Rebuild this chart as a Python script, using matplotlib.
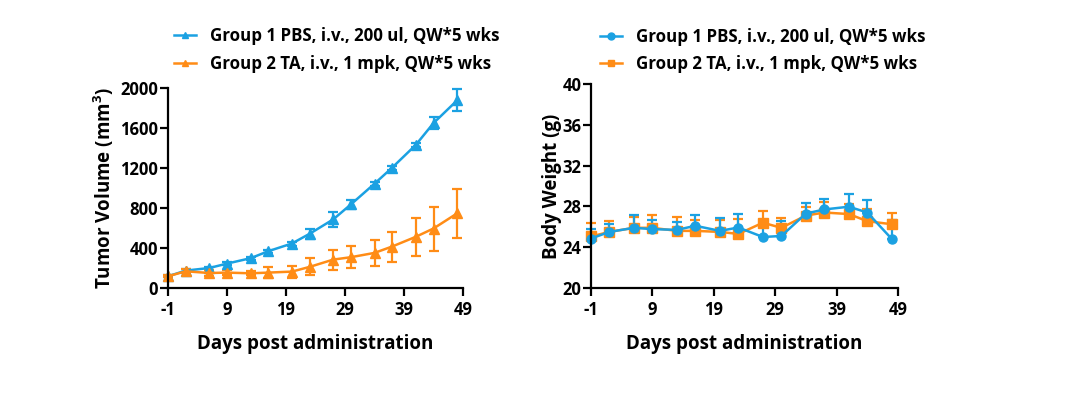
import matplotlib
matplotlib.use("Agg")
import matplotlib.pyplot as plt
from matplotlib.lines import Line2D

plt.rcParams["font.family"] = ["Open Sans", "DejaVu Sans"]
plt.rcParams["font.weight"] = "bold"
plt.rcParams["axes.unicode_minus"] = False
plt.rcParams["mathtext.fontset"] = "custom"
plt.rcParams["mathtext.bf"] = "Open Sans:bold"
plt.rcParams["mathtext.rm"] = "Open Sans:bold"

# dados
dias = [-1, 2, 6, 9, 13, 16, 20, 23, 27, 30, 34, 37, 41, 44, 48]
tumor_g1 = [117, 174, 200, 244, 298, 368, 445, 542, 686, 836, 1043, 1204, 1431, 1649, 1876]
tumor_g1_err = [10, 15, 15, 15, 15, 15, 20, 50, 75, 45, 20, 20, 20, 60, 110]
tumor_g2 = [117, 167, 150, 154, 147, 154, 164, 211, 284, 308, 351, 415, 512, 595, 746]
tumor_g2_err = [10, 20, 30, 25, 20, 55, 60, 85, 100, 110, 130, 150, 190, 220, 245]

peso_g1 = [24.85, 25.5, 25.9, 25.77, 25.7, 26.1, 25.6, 25.93, 25.0, 25.1, 27.3, 27.7, 27.97, 27.4, 24.8]
peso_g1_err = [0.9, 0.75, 1.25, 0.9, 0.8, 1.1, 1.3, 1.3, 1.5, 1.5, 1.0, 1.05, 1.25, 1.25, 1.9]
peso_g2 = [25.05, 25.5, 25.9, 25.9, 25.6, 25.6, 25.5, 25.3, 26.4, 25.9, 27.1, 27.4, 27.25, 26.55, 26.25]
peso_g2_err = [1.3, 1.1, 1.1, 1.25, 1.4, 1.1, 1.2, 1.5, 1.1, 0.95, 0.8, 1.0, 1.0, 1.2, 1.15]

rotulos = ["Group 1 PBS, i.v., 200 ul, QW*5 wks", "Group 2 TA, i.v., 1 mpk, QW*5 wks"]
azul = "#1BA1E2"
laranja = "#FF8C16"

W, H = 1080, 397
fig = plt.figure(figsize=(W / 100, H / 100), dpi=100)


def eixo_px(x0, x1, y0, y1):
	return fig.add_axes([x0 / W, 1 - y1 / H, (x1 - x0) / W, (y1 - y0) / H])


def configurar(ax, ylabel, yticks, ylim, ypad):
	ax.set_xlim(-1, 49)
	ax.set_ylim(*ylim)
	ax.set_xticks([-1, 9, 19, 29, 39, 49])
	ax.set_yticks(yticks)
	for s in ["top", "right"]:
		ax.spines[s].set_visible(False)
	for s in ["left", "bottom"]:
		ax.spines[s].set_linewidth(1.6)
	ax.tick_params(width=1.6, length=5.5, labelsize=12)
	ax.tick_params(axis="x", pad=4)
	ax.tick_params(axis="y", pad=1.5)
	for lbl in ax.get_xticklabels() + ax.get_yticklabels():
		lbl.set_fontweight("bold")
	ax.set_xlabel("Days post administration", fontsize=13.5, fontweight="bold", labelpad=11)
	ax.set_ylabel(ylabel, fontsize=13.5, fontweight="bold", labelpad=ypad)


def serie(ax, y, err, cor, marker, ms, so_acima=False):
	yerr = [[0] * len(err), err] if so_acima else err
	ax.errorbar(dias, y, yerr=yerr, color=cor, marker=marker, markersize=ms, linewidth=1.8,
				elinewidth=1.6, capsize=3.5, capthick=1.6, clip_on=False)


ax1 = eixo_px(168, 463, 88, 288)
serie(ax1, tumor_g1, tumor_g1_err, azul, "^", 6.5)
serie(ax1, tumor_g2, tumor_g2_err, laranja, "^", 6.5)
configurar(ax1, "Tumor Volume (mm$^\\mathbf{3}$)", [0, 400, 800, 1200, 1600, 2000], (0, 2000), 3)

ax2 = eixo_px(591, 898, 84, 288)
serie(ax2, peso_g2, peso_g2_err, laranja, "s", 6.5, so_acima=True)
serie(ax2, peso_g1, peso_g1_err, azul, "o", 6.5, so_acima=True)
configurar(ax2, "Body Weight (g)", [20, 24, 28, 32, 36, 40], (20, 40), 0)

h1 = [Line2D([0], [0], color=azul, marker="^", markersize=5, lw=1.8),
	  Line2D([0], [0], color=laranja, marker="^", markersize=5, lw=1.8)]
h2 = [Line2D([0], [0], color=azul, marker="o", markersize=5, lw=1.8),
	  Line2D([0], [0], color=laranja, marker="s", markersize=5, lw=1.8)]

props = {"size": 12.2, "weight": "bold"}
ax1.legend(h1, rotulos, loc="lower left", bbox_to_anchor=(-0.03, 1.0), frameon=False,
		   prop=props, handlelength=1.3, handletextpad=0.8, labelspacing=0.55)
ax2.legend(h2, rotulos, loc="lower left", bbox_to_anchor=(-0.02, 0.98), frameon=False,
		   prop=props, handlelength=1.3, handletextpad=0.8, labelspacing=0.55)

fig.savefig("out.png", dpi=100)
